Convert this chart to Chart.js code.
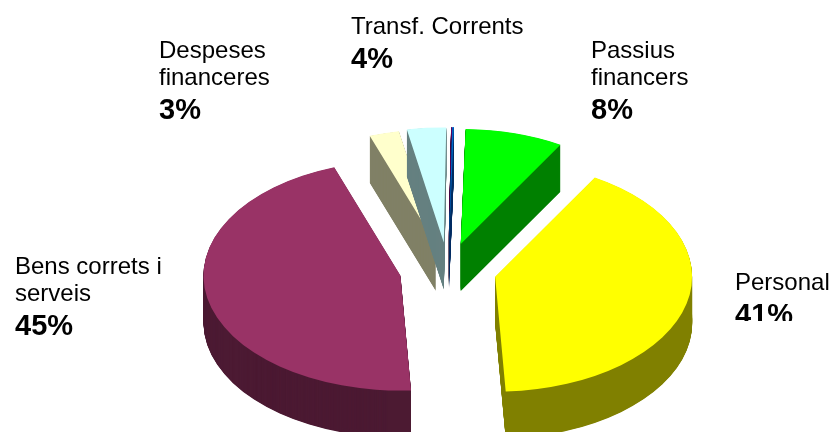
<!DOCTYPE html>
<html>
<head>
<meta charset="utf-8">
<script src="https://cdn.jsdelivr.net/npm/chart.js@4"></script>
<style>
  html, body { margin: 0; padding: 0; background: #fff; }
  #wrap { width: 834px; height: 432px; }
</style>
</head>
<body>
<div id="wrap"><canvas id="chart"></canvas></div>
<script>
// slices clockwise, starting at Personal
const categories = ['Personal', 'Bens correts i serveis', 'Despeses financeres', 'Transf. Corrents', 'Altres', 'Altres 2', 'Passius financers'];
const values = [40.7, 45.4, 2.45, 3.2, 0.07, 0.13, 8.05];
const topColors = ['#ffff00', '#993366', '#ffffcc', '#ccffff', '#660066', '#0066cc', '#00ff00'];
const sideColors = ['#808000', '#4c1a33', '#808066', '#668080', '#330033', '#003366', '#008000'];

// label text, one row per line
const labelLines = [['Personal'], ['Bens correts i', 'serveis'], ['Despeses', 'financeres'], ['Transf. Corrents'], [], [], ['Passius', 'financers']];
const labelPercents = ['41%', '45%', '3%', '4%', '', '', '8%'];
const labelX = [735, 15, 159, 351, 0, 0, 591];
const labelY = [290, 274, 58, 34, 0, 0, 58];

const tilt = 115 / 197; // ellipse squash
const depth = 47;
const explode = [48.5, 48.5, 46, 47.5, 48, 48, 46.5];

const pie3d = {
  id: 'pie3d',
  beforeDatasetsDraw(chart) {
    const ctx = chart.ctx;
    const arcs = chart.getDatasetMeta(0).data;
    arcs.forEach((arc, i) => {
      const mid = (arc.startAngle + arc.endAngle) / 2;
      const topOpts = arc.options;
      const sideOpts = Object.assign({}, topOpts, { backgroundColor: sideColors[i] });
      // draw from the bottom layer up, the last one is the top face
      for (let d = depth; d >= 0; d -= 0.5) {
        ctx.save();
        ctx.translate(arc.x, arc.y + d);
        ctx.scale(1, tilt);
        ctx.translate(-arc.x, -arc.y);
        ctx.translate(Math.cos(mid) * explode[i], Math.sin(mid) * explode[i]);
        arc.options = d === 0 ? topOpts : sideOpts;
        arc.draw(ctx);
        ctx.restore();
      }
      arc.options = topOpts;
    });
    return false;
  },
  afterDraw(chart) {
    const ctx = chart.ctx;
    ctx.save();
    ctx.fillStyle = '#000';
    ctx.textBaseline = 'alphabetic';
    categories.forEach((c, i) => {
      if (!labelPercents[i]) return;
      ctx.save();
      // the Personal percent is cut off in the original
      if (i === 0) {
        ctx.beginPath();
        ctx.rect(0, 0, 834, 321);
        ctx.clip();
      }
      let y = labelY[i];
      ctx.font = '24px "Liberation Sans", Arial, sans-serif';
      labelLines[i].forEach(line => {
        ctx.fillText(line, labelX[i], y);
        y += 27;
      });
      ctx.font = 'bold 29px "Liberation Sans", Arial, sans-serif';
      ctx.fillText(labelPercents[i], labelX[i], y + 7);
      ctx.restore();
    });
    ctx.restore();
  }
};

new Chart(document.getElementById('chart'), {
  type: 'pie',
  data: {
    labels: categories,
    datasets: [{
      data: values,
      backgroundColor: topColors,
      borderWidth: 0
    }]
  },
  options: {
    responsive: true,
    maintainAspectRatio: false,
    animation: false,
    rotation: 30.4,
    radius: 197,
    layout: { padding: { left: 62, top: 108 } }, // moves the pie centre to 448,270
    plugins: {
      legend: { display: false },
      tooltip: { enabled: false }
    }
  },
  plugins: [pie3d]
});
</script>
</body>
</html>
